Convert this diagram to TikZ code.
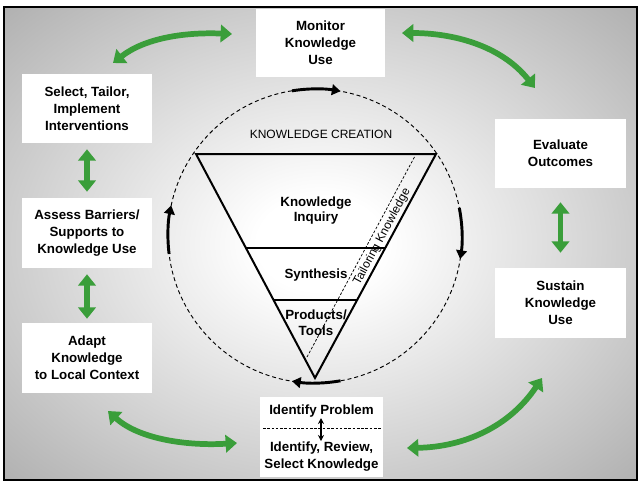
\documentclass[tikz,border=0pt]{standalone}
\usepackage{fontspec}
\setmainfont{Liberation Sans}
\usetikzlibrary{arrows.meta,calc}
\definecolor{kgreen}{RGB}{58,158,58}
\definecolor{bgin}{RGB}{212,212,212}
\definecolor{bgmid}{RGB}{170,170,170}
\definecolor{bgedge}{RGB}{142,142,142}
\definecolor{bgcorner}{RGB}{122,122,122}
\pgfdeclareradialshading{bgshade}{\pgfpoint{0bp}{0bp}}{color(0bp)=(white); color(5bp)=(white); color(22bp)=(bgin); color(38bp)=(bgmid); color(50bp)=(bgedge); color(72bp)=(bgcorner)}
\begin{document}
\begin{tikzpicture}[x=0.75pt,y=-0.75pt,
  font=\fontsize{10}{12.75}\selectfont\bfseries,
  box/.style={fill=white, align=center, inner sep=0pt},
  garrow/.style={draw=kgreen, line width=4.3pt, {Triangle[width=13pt,length=8.5pt]}-{Triangle[width=13pt,length=8.5pt]}},
  karrow/.style={line width=2.2pt, -{Triangle[width=8pt,length=6.5pt]}},
  inner/.style={font=\fontsize{10}{11.6}\selectfont\bfseries, align=center, inner sep=0pt},
  thin/.style={font=\fontsize{9}{11}\selectfont, inner sep=0pt}]
\useasboundingbox (0,0) rectangle (643,487);
% background
\path[shading=bgshade] (4,7) rectangle (637,480);
\draw[line width=1.2pt] (4,7) rectangle (637,480);

% boxes
\node[box, minimum width=96.75pt, minimum height=51pt] (mon) at (320.5,43) {Monitor\\Knowledge\\Use};
\node[box, minimum width=97.5pt, minimum height=51.75pt] (sel) at (87,108.5) {Select, Tailor,\\Implement\\Interventions};
\node[box, minimum width=97.5pt, minimum height=52.5pt] (ass) at (87,233) {Assess Barriers/\\Supports to\\Knowledge Use};
\node[box, minimum width=97.5pt, minimum height=52.5pt] (ada) at (87,358) {Adapt\\Knowledge\\to Local Context};
\node[box, minimum width=98.25pt, minimum height=51.75pt] (eva) at (560.5,153.5) {Evaluate\\Outcomes};
\node[box, minimum width=98.25pt, minimum height=52.5pt] (sus) at (560.5,303) {Sustain\\Knowledge\\Use};
\node[box, minimum width=92.25pt, minimum height=60pt] (idb) at (321.5,437) {};
\node[inner sep=0pt] (ip) at (321.5,411) {Identify Problem};
\node[align=center, inner sep=0pt] (irs) at (321.5,457) {Identify, Review,\\Select Knowledge};
\coordinate (dl) at (263,428);
\coordinate (dr) at (381,428);
\draw[line width=0.6pt, dash pattern=on 2pt off 1.2pt] (dl) -- (dr);
\coordinate (sa1) at (321,418);
\coordinate (sa2) at (321,441);
\draw[line width=1pt, {Stealth[length=4.5pt,width=4.5pt]}-{Stealth[length=4.5pt,width=4.5pt]}] (sa1) -- (sa2);

% circle and triangle
\coordinate (cen) at (315,236);
\draw[line width=0.7pt, dash pattern=on 3pt off 2.2pt] (cen) circle[radius=147];
\coordinate (tl) at (196,154);
\coordinate (tr) at (436,154);
\coordinate (bt) at (315,378);
\draw[line width=1.5pt, line join=miter] (tl) -- (tr) -- (bt) -- cycle;
\draw[line width=0.8pt] ($(tl)!0.4196!(bt)$) -- ($(tr)!0.4196!(bt)$);
\draw[line width=0.8pt] ($(tl)!0.6518!(bt)$) -- ($(tr)!0.6518!(bt)$);
\coordinate (tkb) at (307,357);
\coordinate (tkt) at (415,156);
\draw[line width=0.55pt, dash pattern=on 2pt off 1.3pt] (tkb) -- (tkt)
  node[thin, pos=0.62, sloped, below=2.5pt] (tk) {Tailoring Knowledge};
\node[thin] (kc) at (321,134) {KNOWLEDGE CREATION};
\node[inner] (ki) at (316,210.5) {Knowledge\\Inquiry};
\node[inner] (sy) at (316,275) {Synthesis};
\node[inner] (pt) at (316,322.5) {Products/\\Tools};

% black arc arrows
\draw[karrow] (cen) ++(-99:147) arc[start angle=-99, end angle=-80, radius=147];
\draw[karrow] (cen) ++(-11:147) arc[start angle=-11, end angle=9, radius=147];
\draw[karrow] (cen) ++(80:147) arc[start angle=80, end angle=99, radius=147];
\draw[karrow] (cen) ++(173:147) arc[start angle=173, end angle=192, radius=147];

% green arrows
\coordinate (g1a) at (113,63);  \coordinate (g1b) at (232,34);
\coordinate (g2a) at (402,33);  \coordinate (g2b) at (535,88);
\coordinate (g3a) at (108,411); \coordinate (g3b) at (237,443);
\coordinate (g4a) at (407,448); \coordinate (g4b) at (542,378);
\draw[garrow] (g1a) .. controls (145,38) and (185,32) .. (g1b);
\draw[garrow] (g2a) .. controls (450,33) and (500,44) .. (g2b);
\draw[garrow] (g3a) .. controls (140,440) and (190,446) .. (g3b);
\draw[garrow] (g4a) .. controls (465,447) and (510,426) .. (g4b);
\draw[garrow] ($(sel.south)+(0,6)$) coordinate (v1a) -- ($(ass.north)+(0,-6)$) coordinate (v1b);
\draw[garrow] ($(ass.south)+(0,6)$) coordinate (v2a) -- ($(ada.north)+(0,-4)$) coordinate (v2b);
\draw[garrow] ($(eva.south)+(0,14)$) coordinate (v3a) -- ($(sus.north)+(0,-15)$) coordinate (v3b);
\end{tikzpicture}
\end{document}
